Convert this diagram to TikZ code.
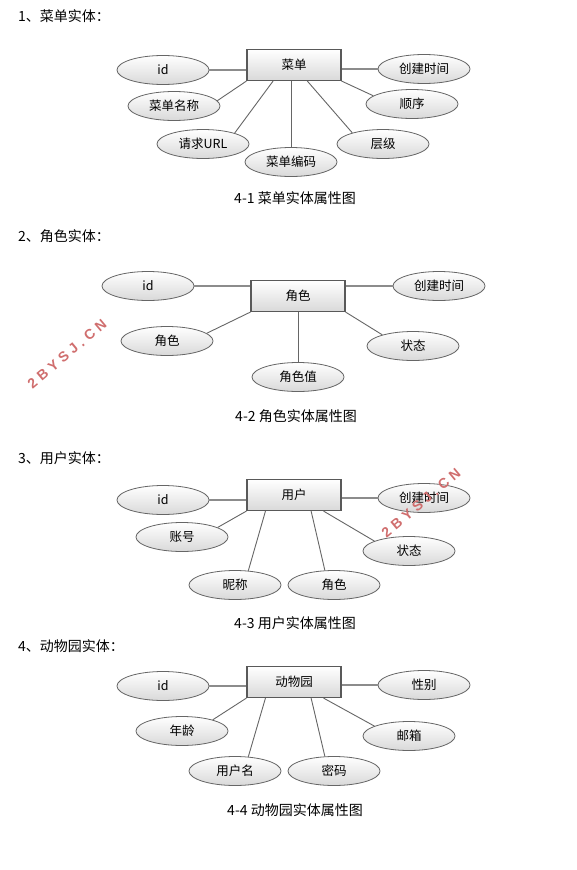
\documentclass[tikz,border=0pt]{standalone}
\usepackage{fontspec}
\setmainfont{Noto Sans CJK SC}
\newfontfamily\markfont[LetterSpace=30]{Liberation Sans}
\usetikzlibrary{shapes.geometric,calc}
\definecolor{wmcol}{RGB}{208,110,110}
\tikzset{
  entity/.style={draw=black!65,line width=1.1pt,top color=white,bottom color=black!15,minimum width=94pt,minimum height=31pt,inner sep=0pt,font=\fontsize{12.5pt}{14pt}\selectfont},
  attr/.style={ellipse,draw=black!60,line width=0.8pt,top color=white,bottom color=black!15,minimum width=92pt,minimum height=29pt,inner sep=0pt,font=\fontsize{12.5pt}{14pt}\selectfont},
  link/.style={draw=black!60,line width=0.9pt},
  hlink/.style={draw=black!45,line width=2pt},
  sechead/.style={anchor=west,inner sep=0pt,font=\fontsize{14pt}{16pt}\selectfont},
  figcap/.style={inner sep=0pt,font=\fontsize{14pt}{16pt}\selectfont},
  wmark/.style={rotate=40,inner sep=0pt,text=wmcol,font=\markfont\bfseries\fontsize{14pt}{16pt}\selectfont}
}
\begin{document}
\begin{tikzpicture}[x=1pt,y=-1pt]
\path[use as bounding box,fill=white] (0,0) rectangle (576,870);

\node[sechead] (h1) at (18,16) {1、菜单实体：};
\node[entity] (menu) at (294,65) {菜单};
\node[attr] (mid) at (163,70) {id};
\node[attr] (mtime) at (424,69) {创建时间};
\node[attr] (mname) at (174,106) {菜单名称};
\node[attr] (morder) at (412,104) {顺序};
\node[attr] (murl) at (203,144) {请求URL};
\node[attr] (mlevel) at (383,144) {层级};
\node[attr] (mcode) at (291,162) {菜单编码};
\node[figcap] (c1) at (295,198) {4-1 菜单实体属性图};
\draw[hlink] (mid.east) -- (mid.east -| menu.west);
\draw[hlink] (mtime.west) -- (mtime.west -| menu.east);
\draw[link] (menu.south west) -- (mname.7);
\draw[link] ($(menu.south west)!.28!(menu.south east)$) -- (murl.19);
\draw[link] (mcode.north) -- (mcode.north |- menu.south);
\draw[link] ($(menu.south west)!.64!(menu.south east)$) -- (mlevel.160);
\draw[link] (menu.south east) -- (morder.168);

\node[sechead] (h2) at (18,236) {2、角色实体：};
\node[entity] (role) at (298,296) {角色};
\node[attr] (rid) at (148,286) {id};
\node[attr] (rtime) at (439,286) {创建时间};
\node[attr] (rname) at (167,341) {角色};
\node[attr] (rstate) at (413,346) {状态};
\node[attr] (rval) at (298,377) {角色值};
\node[figcap] (c2) at (296,416) {4-2 角色实体属性图};
\draw[hlink] (rid.east) -- (rid.east -| role.west);
\draw[hlink] (rtime.west) -- (rtime.west -| role.east);
\draw[link] (role.south west) -- (rname.11);
\draw[link] (rval.north) -- (role.south);
\draw[link] (role.south east) -- (rstate.160);

\node[sechead] (h3) at (18,458) {3、用户实体：};
\node[entity] (user) at (294,495) {用户};
\node[attr] (uid) at (163,500) {id};
\node[attr] (utime) at (424,498) {创建时间};
\node[attr] (uacct) at (182,537) {账号};
\node[attr] (ustate) at (409,551) {状态};
\node[attr] (unick) at (235,585) {昵称};
\node[attr] (urole) at (334,585) {角色};
\node[figcap] (c3) at (295,623) {4-3 用户实体属性图};
\draw[hlink] (uid.east) -- (uid.east -| user.west);
\draw[hlink] (utime.west) -- (utime.west -| user.east);
\draw[link] (user.south west) -- (uacct.15);
\draw[link] ($(user.south west)!.2!(user.south east)$) -- (unick.47);
\draw[link] ($(user.south west)!.68!(user.south east)$) -- (urole.122);
\draw[link] ($(user.south west)!.81!(user.south east)$) -- (ustate.164);

\node[sechead] (h4) at (18,646) {4、动物园实体：};
\node[entity] (zoo) at (294,682) {动物园};
\node[attr] (zid) at (163,686) {id};
\node[attr] (zsex) at (424,685) {性别};
\node[attr] (zage) at (182,731) {年龄};
\node[attr] (zmail) at (409,736) {邮箱};
\node[attr] (zuser) at (235,771) {用户名};
\node[attr] (zpwd) at (334,771) {密码};
\node[figcap] (c4) at (295,810) {4-4 动物园实体属性图};
\draw[hlink] (zid.east) -- (zid.east -| zoo.west);
\draw[hlink] (zsex.west) -- (zsex.west -| zoo.east);
\draw[link] (zoo.south west) -- (zage.20);
\draw[link] ($(zoo.south west)!.2!(zoo.south east)$) -- (zuser.47);
\draw[link] ($(zoo.south west)!.68!(zoo.south east)$) -- (zpwd.122);
\draw[link] ($(zoo.south west)!.81!(zoo.south east)$) -- (zmail.164);

\node[wmark] (wm1) at (67,354) {2BYSJ.CN};
\node[wmark] (wm2) at (421,503) {2BYSJ.CN};
\end{tikzpicture}
\end{document}
